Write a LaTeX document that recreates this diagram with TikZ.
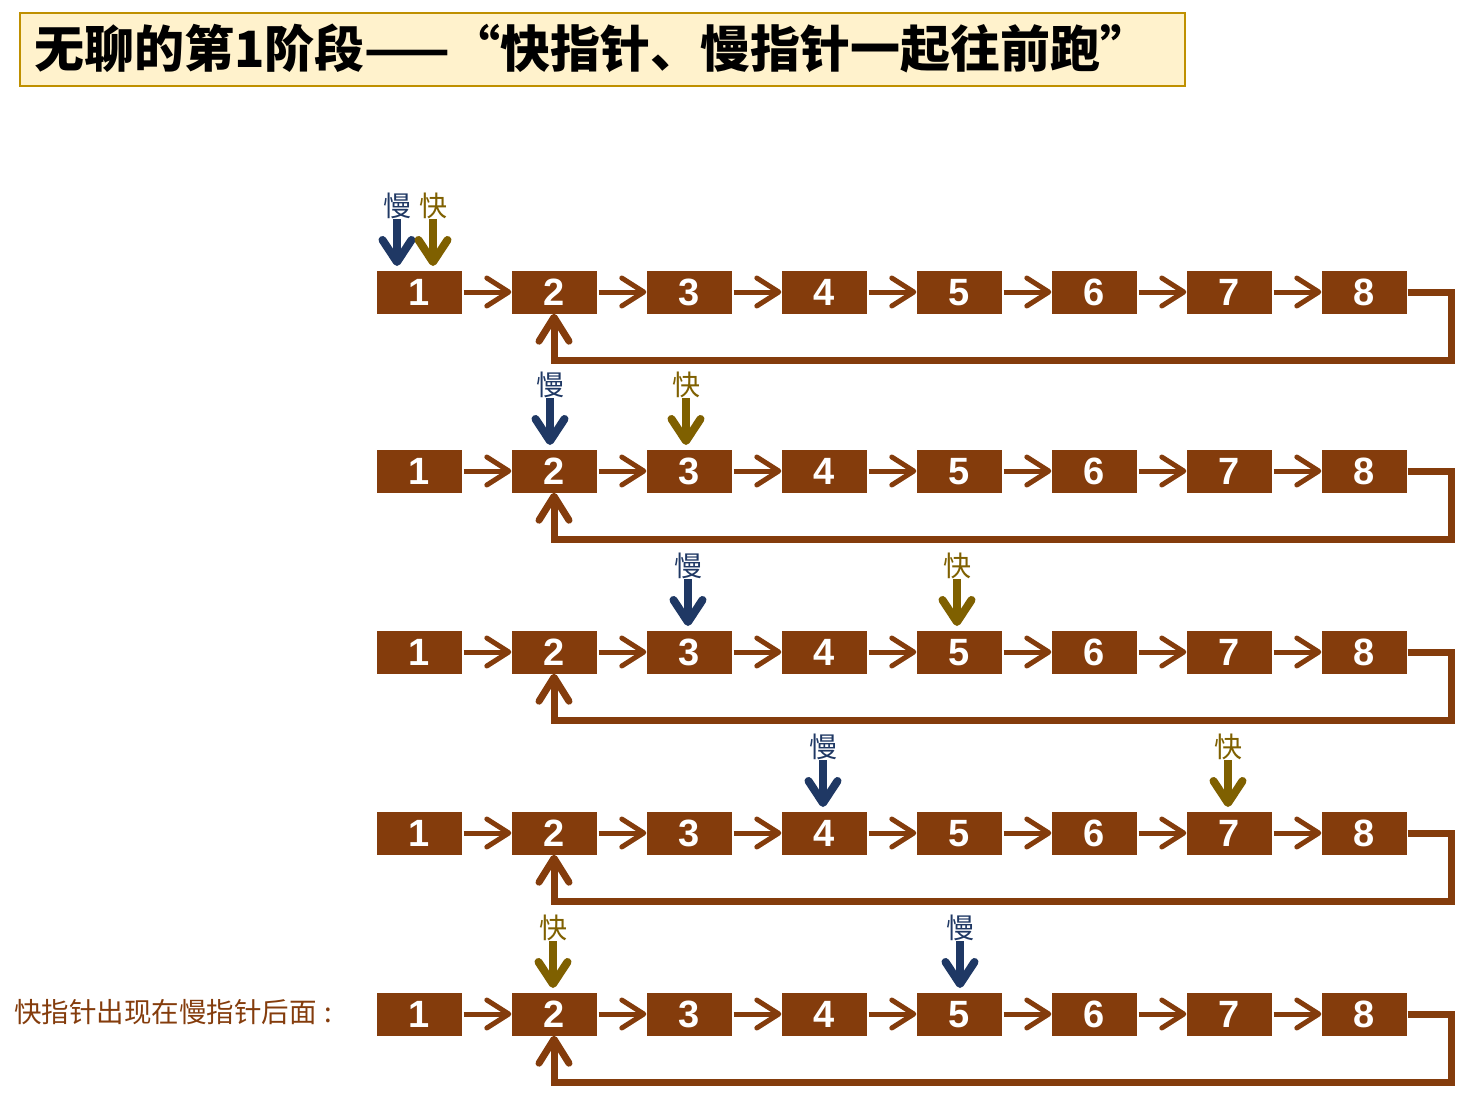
\documentclass[tikz,border=0pt]{standalone}
\usepackage{fontspec}
\setmainfont{Liberation Sans}
\newfontfamily\cjk{Noto Sans CJK SC}
\usetikzlibrary{arrows.meta}
\definecolor{brn}{HTML}{843C0C}
\definecolor{slowc}{HTML}{1F3864}
\definecolor{fastc}{HTML}{7F6000}
\definecolor{tfill}{HTML}{FFF2CC}
\definecolor{tdraw}{HTML}{BF9000}
\tikzset{
  cell/.style={fill=brn, minimum width=85pt, minimum height=43pt, inner sep=0pt,
    text=white, text height=27pt, text depth=0pt,
    font=\bfseries\fontsize{38}{38}\selectfont},
  link/.style={draw=brn, line width=5pt, shorten <=2pt,
    -{Straight Barb[length=22pt,width=28pt,round]}},
  backloop/.style={draw=brn, line width=7pt, line join=miter,
    -{Straight Barb[length=24pt,width=30pt,round]}},
  slowlab/.style={inner sep=0pt, text=slowc, font=\cjk\fontsize{28}{28}\selectfont},
  fastlab/.style={inner sep=0pt, text=fastc, font=\cjk\fontsize{28}{28}\selectfont},
  slowptr/.style={draw=slowc, line width=8pt, -{Straight Barb[length=22pt,width=29pt,round]}},
  fastptr/.style={draw=fastc, line width=8pt, -{Straight Barb[length=22pt,width=29pt,round]}},
}
\begin{document}
\begin{tikzpicture}[x=1pt,y=-1pt]
\useasboundingbox (0,0) rectangle (1476,1108);
% title
\node[draw=tdraw, line width=2pt, fill=tfill, minimum width=1165pt, minimum height=73pt, inner sep=0pt] (titlebox) at (602.5,49.5) {};
\node[anchor=west, inner sep=0pt, font=\cjk\bfseries\fontsize{50}{50}\selectfont] (title) at (34,49) {无聊的第1阶段——“快指针、慢指针一起往前跑”};
% rows
\foreach \r/\y in {1/292,2/471,3/652,4/833,5/1014}{
  \foreach \i in {1,...,8}{
    \node[cell] (r\r-\i) at ({419+135*(\i-1)},\y) {\i};
  }
  \foreach \i [evaluate=\i as \j using int(\i+1)] in {1,...,7}{
    \draw[link] (r\r-\i.east) -- (r\r-\j.west);
  }
  \draw[backloop] ([xshift=1pt]r\r-8.east) -- ++(44,0) -- ++(0,68) -| (r\r-2.south);
}
% pointers: name / x / row y / kind / text
\foreach \n/\x/\y/\k/\t in {s1/397/292/slow/慢, f1/433/292/fast/快,
                        s2/550/471/slow/慢, f2/686/471/fast/快,
                        s3/688/652/slow/慢, f3/957/652/fast/快,
                        s4/823/833/slow/慢, f4/1228/833/fast/快,
                        f5/553/1014/fast/快, s5/960/1014/slow/慢}{
  \node[\k lab] (\n) at (\x,\y-86) {\t};
  \coordinate (\n-tip) at (\x,\y-26);
  \draw[\k ptr] (\n.south) -- (\n-tip);
}
\node[anchor=west, inner sep=0pt, text=brn, font=\cjk\fontsize{27.5}{27.5}\selectfont] (note) at (14,1012) {快指针出现在慢指针后面\hspace{8pt}:};
\end{tikzpicture}
\end{document}
